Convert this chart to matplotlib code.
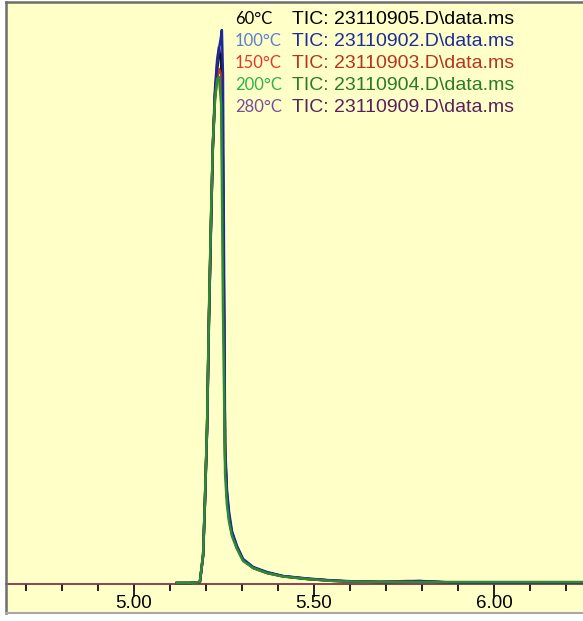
import numpy as np
from matplotlib import pyplot as plt

# retention time in minutes
times = [5.119, 5.156, 5.183, 5.192, 5.197, 5.203, 5.208, 5.214, 5.219, 5.225,
         5.231, 5.236, 5.242, 5.244, 5.247, 5.253, 5.258, 5.264, 5.272, 5.286,
         5.303, 5.331, 5.369, 5.414, 5.481, 5.553, 5.600, 5.683, 5.758, 5.794,
         5.831, 5.878, 6.017, 6.156, 6.247]

# total ion current, millions of counts
tic60 = [0.01, 0.01, 0.02, 0.29, 0.82, 1.57, 2.62, 3.62, 4.38, 4.90,
         5.15, 5.28, 5.30, 4.90, 4.20, 1.30, 0.90, 0.68, 0.51, 0.37,
         0.24, 0.165, 0.115, 0.078, 0.052, 0.033, 0.026, 0.02, 0.022, 0.025,
         0.022, 0.015, 0.015, 0.015, 0.015]
tic100 = [0.01, 0.01, 0.02, 0.28, 0.80, 1.55, 2.60, 3.60, 4.35, 4.90,
          5.20, 5.35, 5.48, 5.54, 5.10, 1.40, 0.95, 0.72, 0.53, 0.38,
          0.25, 0.17, 0.12, 0.08, 0.055, 0.035, 0.028, 0.02, 0.025, 0.03,
          0.025, 0.015, 0.015, 0.015, 0.015]
tic150 = [0.01, 0.01, 0.02, 0.30, 0.84, 1.58, 2.66, 3.66, 4.38, 4.85,
          5.05, 5.15, 5.10, 4.60, 3.60, 1.35, 0.88, 0.66, 0.50, 0.36,
          0.24, 0.16, 0.11, 0.076, 0.05, 0.032, 0.025, 0.02, 0.03, 0.03,
          0.02, 0.015, 0.015, 0.015, 0.015]
tic200 = [0.01, 0.01, 0.02, 0.30, 0.85, 1.60, 2.70, 3.70, 4.40, 4.85,
          5.05, 5.07, 4.80, 4.10, 2.80, 1.10, 0.80, 0.62, 0.48, 0.35,
          0.23, 0.16, 0.11, 0.075, 0.05, 0.03, 0.025, 0.02, 0.02, 0.02,
          0.02, 0.02, 0.02, 0.02, 0.02]
tic280 = [0.01, 0.01, 0.02, 0.29, 0.83, 1.56, 2.64, 3.64, 4.40, 4.95,
          5.25, 5.37, 5.25, 4.80, 4.00, 1.25, 0.88, 0.66, 0.50, 0.36,
          0.24, 0.16, 0.11, 0.077, 0.05, 0.032, 0.025, 0.02, 0.02, 0.02,
          0.02, 0.015, 0.015, 0.015, 0.015]

temps = ["60°C", "100°C", "150°C", "200°C", "280°C"]
files = ["23110905.D", "23110902.D", "23110903.D", "23110904.D", "23110909.D"]
series = [tic60, tic100, tic150, tic200, tic280]

lineColors = ["#101010", "#1A2A9A", "#B83A22", "#2E8B34", "#5A2466"]
tempColors = ["#000000", "#5B7FD0", "#E8352A", "#2DB24E", "#7A4C9C"]
fileColors = ["#000000", "#1C2C9C", "#B8341E", "#2A7A2A", "#5C1E5C"]

W, H = 583, 621
fig = plt.figure(figsize=(W/100, H/100), dpi=100, facecolor="white")
ax = fig.add_axes([6/W, 8/H, 1 - 6/W, 611/H], facecolor="#FFFFC8")

# draw order so green sits on the rising edge and blue on the tail
for i in [4, 0, 2, 1, 3]:
    ax.plot(times, series[i], color=lineColors[i], lw=1.8, zorder=3)

ymin, ymax = -0.29, 5.82
ax.set_ylim(ymin, ymax)
ax.set_xlim(4.6444, 6.2472)
ax.set_yticks([])
ax.set_xticks([])

for side in ["left", "top"]:
    ax.spines[side].set_color("#6E6E6E")
    ax.spines[side].set_linewidth(1.8)
ax.spines["right"].set_visible(False)
ax.spines["bottom"].set_color("#A8A8A8")
ax.spines["bottom"].set_linewidth(1.5)

# baseline axis with ticks hanging down from zero
sec = ax.secondary_xaxis(-ymin/(ymax - ymin))
sec.spines["bottom"].set_color("#8A3048")
sec.spines["bottom"].set_linewidth(1.3)
sec.set_xticks([5.0, 5.5, 6.0])
sec.set_xticklabels(["5.00", "5.50", "6.00"], family="Liberation Sans",
                    fontsize=13.5)
sec.set_xticks(np.arange(4.7, 6.25, 0.1), minor=True)
sec.tick_params(which="major", direction="out", length=9.5, width=1.4,
                color="#202020", pad=-1.5)
sec.tick_params(which="minor", direction="out", length=5, width=1.4,
                color="#202020")

rows = [19, 41, 63, 85, 107]
for i in range(5):
    fig.text(235/W, 1 - rows[i]/H, temps[i], color=tempColors[i],
             family="Lato", fontsize=12, va="center", ha="left")
    fig.text(292/W, 1 - rows[i]/H, "TIC: " + files[i] + "\\data.ms",
             color=fileColors[i], family="Liberation Sans", fontsize=14,
             va="center", ha="left")

fig.savefig("out.png", dpi=100, facecolor="white")
